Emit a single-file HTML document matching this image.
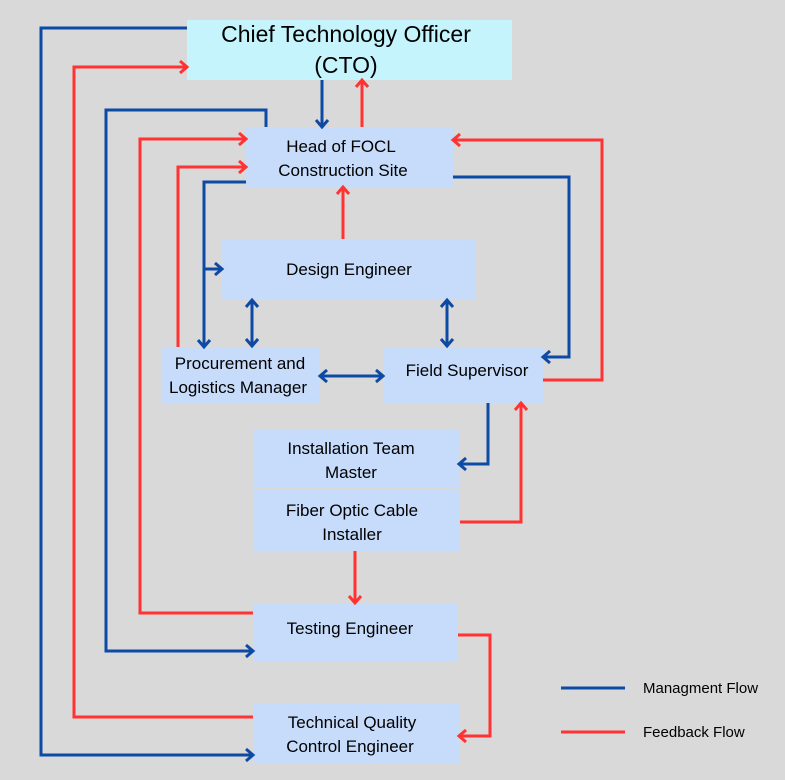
<!DOCTYPE html>
<html><head><meta charset="utf-8"><style>
body{margin:0;background:#d9d9d9;}
svg{display:block;font-family:"Liberation Sans",sans-serif;}
</style></head><body>
<svg width="785" height="780" viewBox="0 0 785 780" xmlns="http://www.w3.org/2000/svg">
<defs>
<marker id="b" viewBox="0 0 10 10" refX="9" refY="5" markerWidth="10" markerHeight="10" orient="auto-start-reverse" markerUnits="userSpaceOnUse" style="overflow:visible">
<path d="M2,-1 L9,5 L2,11" fill="none" stroke="#0d4aa6" stroke-width="3"/></marker>
<marker id="r" viewBox="0 0 10 10" refX="9" refY="5" markerWidth="10" markerHeight="10" orient="auto-start-reverse" markerUnits="userSpaceOnUse" style="overflow:visible">
<path d="M2,-1 L9,5 L2,11" fill="none" stroke="#ff3333" stroke-width="3"/></marker>
</defs>
<rect width="785" height="780" fill="#d9d9d9"/>
<g fill="#c6dcfa">
<rect x="187" y="20" width="325" height="60" fill="#c5f4fd"/>
<rect x="246" y="127" width="207" height="60"/>
<rect x="222" y="239" width="253" height="60"/>
<rect x="162" y="347" width="157" height="57"/>
<rect x="384" y="347" width="159" height="56"/>
<rect x="253" y="430" width="206" height="58"/>
<rect x="253" y="490" width="207" height="61"/>
<rect x="253" y="603" width="205" height="59"/>
<rect x="253" y="703" width="206" height="60"/>
</g>
<g fill="none" stroke="#0d4aa6" stroke-width="3">
<polyline points="187,28 41,28 41,755 253,755" marker-end="url(#b)"/>
<polyline points="266,127 266,110 106,110 106,651 253,651" marker-end="url(#b)"/>
<polyline points="246,182 204,182 204,347" marker-end="url(#b)"/>
<polyline points="204,269 222,269" marker-end="url(#b)"/>
<polyline points="322,80 322,127" marker-end="url(#b)"/>
<polyline points="453,177 569,177 569,357 543,357" marker-end="url(#b)"/>
<polyline points="252,300 252,346" marker-start="url(#b)" marker-end="url(#b)"/>
<polyline points="447,300 447,346" marker-start="url(#b)" marker-end="url(#b)"/>
<polyline points="320,376 383,376" marker-start="url(#b)" marker-end="url(#b)"/>
<polyline points="488,403 488,464 459,464" marker-end="url(#b)"/>
<line x1="561" y1="688" x2="625" y2="688"/>
</g>
<g fill="none" stroke="#ff3333" stroke-width="3">
<polyline points="253,717 74,717 74,67 187,67" marker-end="url(#r)"/>
<polyline points="253,613 140,613 140,139 246,139" marker-end="url(#r)"/>
<polyline points="178,347 178,167 246,167" marker-end="url(#r)"/>
<polyline points="362,127 362,80" marker-end="url(#r)"/>
<polyline points="343,239 343,187" marker-end="url(#r)"/>
<polyline points="543,380 602,380 602,140 453,140" marker-end="url(#r)"/>
<polyline points="460,522 521,522 521,403" marker-end="url(#r)"/>
<polyline points="355,551 355,603" marker-end="url(#r)"/>
<polyline points="458,635 490,635 490,736 459,736" marker-end="url(#r)"/>
<line x1="561" y1="732" x2="625" y2="732"/>
</g>
<g fill="#000" font-size="17" text-anchor="middle">
<text x="346" y="42" font-size="23">Chief Technology Officer</text>
<text x="346" y="73" font-size="23">(CTO)</text>
<text x="341" y="152">Head of FOCL</text>
<text x="343" y="176">Construction Site</text>
<text x="349" y="275">Design Engineer</text>
<text x="240" y="369">Procurement and</text>
<text x="238" y="393">Logistics Manager</text>
<text x="467" y="376">Field Supervisor</text>
<text x="351" y="454">Installation Team</text>
<text x="351" y="478">Master</text>
<text x="352" y="516">Fiber Optic Cable</text>
<text x="352" y="540">Installer</text>
<text x="350" y="634">Testing Engineer</text>
<text x="352" y="728">Technical Quality</text>
<text x="350" y="752">Control Engineer</text>
</g>
<g fill="#000" font-size="15">
<text x="643" y="693">Managment Flow</text>
<text x="643" y="737">Feedback Flow</text>
</g>
</svg>
</body></html>
